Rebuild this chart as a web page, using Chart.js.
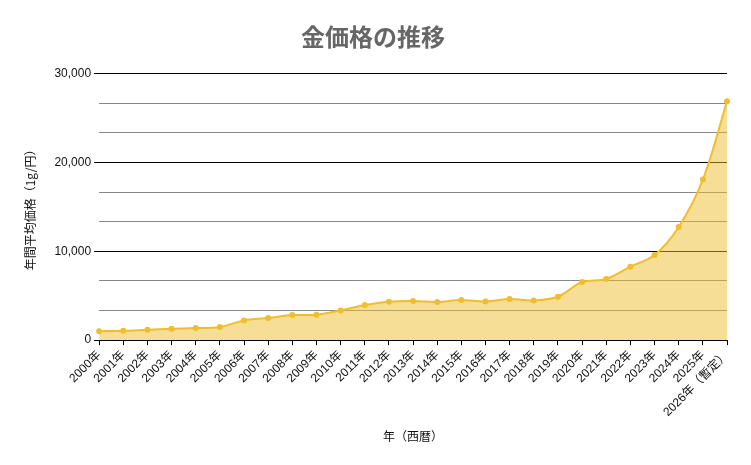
<!DOCTYPE html>
<html>
<head>
<meta charset="utf-8">
<script src="https://cdn.jsdelivr.net/npm/chart.js@4"></script>
<style>
  body { margin: 0; background: #fff; }
</style>
</head>
<body>
<canvas id="myChart" width="751" height="465"></canvas>
<script>
// data
var years = ["2000年", "2001年", "2002年", "2003年", "2004年", "2005年", "2006年", "2007年", "2008年",
    "2009年", "2010年", "2011年", "2012年", "2013年", "2014年", "2015年", "2016年", "2017年", "2018年",
    "2019年", "2020年", "2021年", "2022年", "2023年", "2024年", "2025年", "2026年（暫定）"];
var prices = [1000, 1050, 1170, 1280, 1360, 1470, 2220, 2480, 2820, 2860, 3350, 3950, 4330, 4400,
    4290, 4510, 4360, 4620, 4470, 4890, 6540, 6880, 8270, 9590, 12750, 18080, 26900];
var yLabels = [0, 10000, 20000, 30000];

var lineColor = "rgb(240, 190, 45)";
var fillColor = "rgba(240, 190, 45, 0.5)";

function isMajor(v) {
    return yLabels.some(function (m) { return Math.abs(m - v) < 1; });
}

var ctx = document.getElementById("myChart").getContext("2d");
Chart.defaults.font.family = "'Liberation Sans', Arial, 'Noto Sans CJK JP', sans-serif";
Chart.defaults.color = "#111";

var goldChart = new Chart(ctx, {
    type: 'line',
    data: {
        labels: years,
        datasets: [{
            label: '金価格',
            data: prices,
            borderColor: lineColor,
            backgroundColor: fillColor,
            pointBackgroundColor: lineColor,
            pointBorderColor: lineColor,
            pointRadius: 2,
            borderWidth: 2,
            fill: 'origin',
            tension: 0.35
        }]
    },
    options: {
        responsive: false,
        animation: false,
        layout: { padding: { left: 19, right: 24, top: 10, bottom: 17 } },
        plugins: {
            legend: { display: false },
            tooltip: { enabled: false },
            title: {
                display: true,
                text: '金価格の推移',
                color: '#666',
                font: { size: 24, weight: 'bold', family: "'Noto Sans CJK JP', sans-serif" },
                padding: { top: 12, bottom: 23 }
            }
        },
        scales: {
            x: {
                offset: false,
                grid: {
                    drawOnChartArea: false,
                    drawTicks: true,
                    tickLength: 5,
                    tickColor: '#000'
                },
                border: { display: true, color: '#000' },
                ticks: {
                    autoSkip: false,
                    maxRotation: 45,
                    minRotation: 45,
                    color: '#111',
                    font: { size: 12 }
                },
                title: {
                    display: true,
                    text: '年（西暦）',
                    color: '#111',
                    font: { size: 12, family: "'Noto Sans CJK JP', sans-serif" },
                    padding: { top: 7 }
                }
            },
            y: {
                min: 0,
                max: 30000,
                afterBuildTicks: function (scale) {
                    var t = [];
                    for (var i = 0; i <= 9; i++) {
                        t.push({ value: i * 10000 / 3 });
                    }
                    scale.ticks = t;
                },
                grid: {
                    color: function (c) { return isMajor(c.tick.value) ? '#000' : '#888'; },
                    tickColor: function (c) { return isMajor(c.tick.value) ? '#000' : 'rgba(0,0,0,0)'; },
                    tickLength: 5
                },
                border: { display: false },
                ticks: {
                    autoSkip: false,
                    color: '#111',
                    font: { size: 12 },
                    callback: function (v) {
                        return isMajor(v) ? Math.round(v).toLocaleString('en-US') : '';
                    }
                },
                title: {
                    display: true,
                    text: '年間平均価格（1g/円）',
                    color: '#111',
                    font: { size: 12, family: "'Noto Sans CJK JP', sans-serif" },
                    padding: { bottom: 14 }
                }
            }
        }
    }
});
</script>
</body>
</html>
